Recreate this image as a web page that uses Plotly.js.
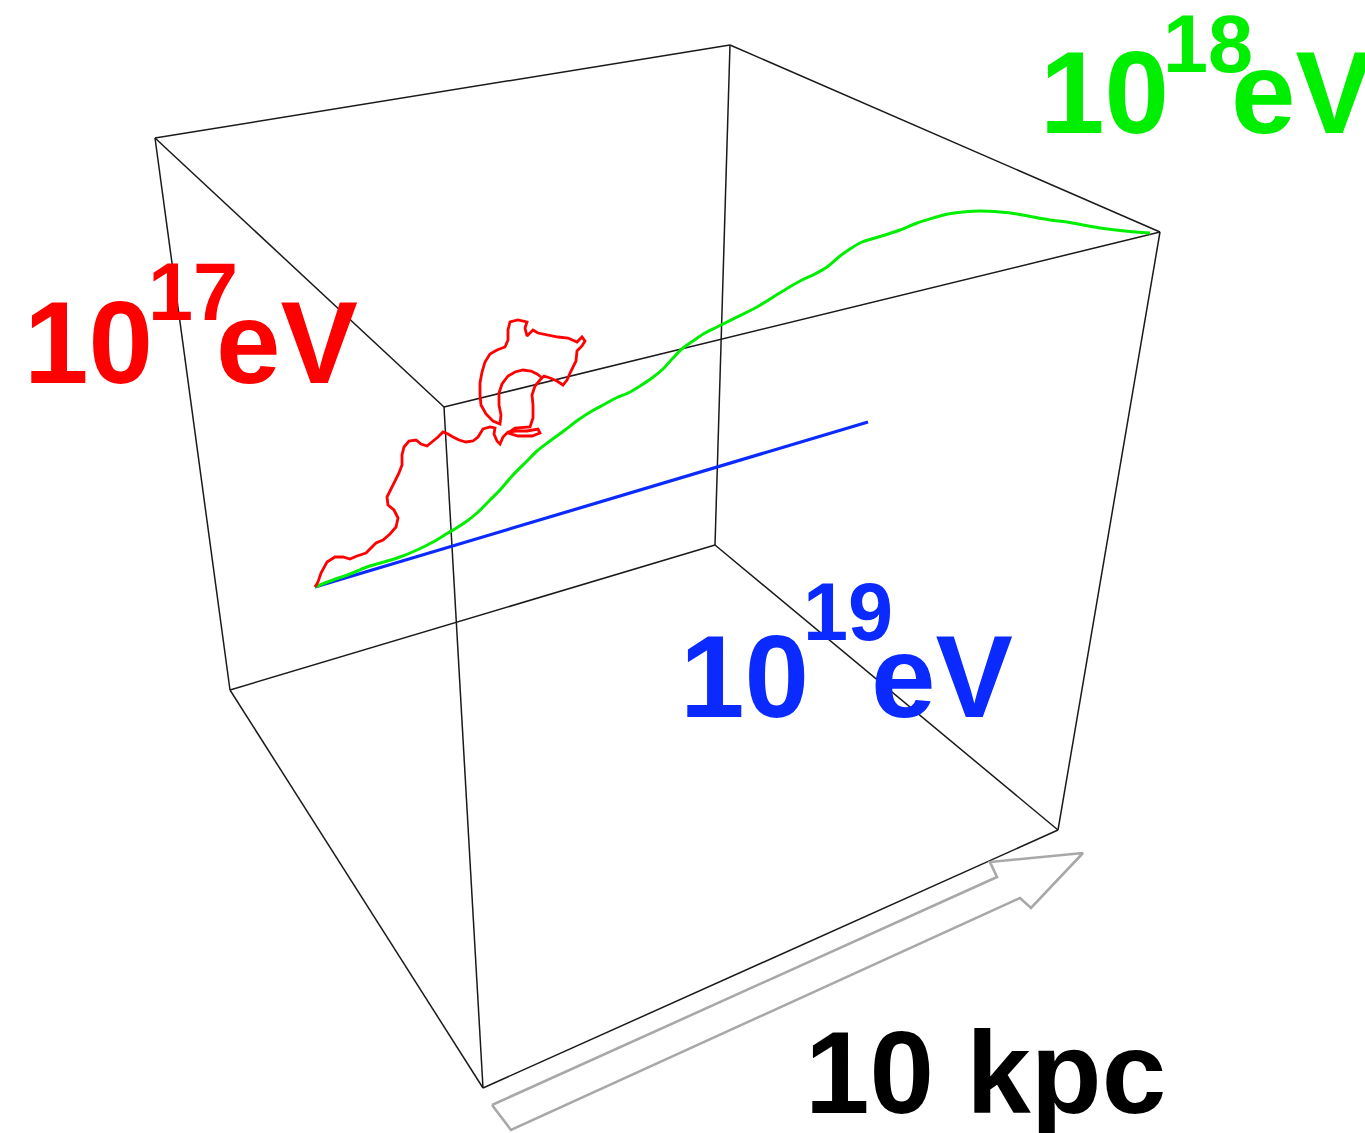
<!DOCTYPE html>
<html>
<head>
<meta charset="utf-8">
<script src="https://cdn.plot.ly/plotly-3.0.1.min.js"></script>
<style>html,body{margin:0;padding:0;background:#fff;}#chart{width:1365px;height:1133px;}</style>
</head>
<body>
<div id="chart"></div>
<script>
// ---- Data (projected picture coordinates) ----
// Cube corners: back-top-left, back-top-right, right-top, front-top, bottom-left, back-bottom, right-bottom, front-bottom
const cubeNames = ["A","B","C","D","E","F","G","H"];
const cubeX = [155, 730, 1160, 444, 230, 715, 1058, 483];
const cubeY = [138,  45,  232, 407, 690, 545,  830, 1088];
const cubeEdges = [[0,1],[1,2],[2,3],[3,0],[4,5],[5,6],[6,7],[7,4],[0,4],[1,5],[2,6],[3,7]];

// 10^17 eV trajectory (red)
const red_x = [315,318,321,327,335,343,350,357,366,371,376,383,390,396,398,394,388,387,391,395,399,402,402,404,409,416,421,427,432,438,443,448,453,459,466,473,478,483,490,495,494,497,500,503,508,516,527,538,540,532,518,508,515,530,533,533,532,535,540,544,550,557,563,567,571,576,577,582,585,582,577,568,558,547,538,533,527,525,527,518,510,508,508,505,497,490,485,482,480,480,481,486,493,500,501,499,499,502,508,515,523,531,537,541];
const red_y = [587,582,573,562,557,557,559,556,553,548,543,540,534,527,518,510,505,497,489,481,473,465,455,447,441,440,444,446,442,437,432,434,437,440,442,441,437,429,427,428,434,441,444,437,432,431,431,429,433,436,436,433,428,427,418,405,395,386,380,376,378,381,385,380,371,361,351,346,341,337,342,338,337,335,333,330,336,328,322,320,322,330,340,347,350,354,362,372,383,395,405,414,421,424,415,405,393,384,376,372,370,371,374,377];

// 10^18 eV trajectory (green)
const green_x = [315,333,350,367,384,400,417,433,448,458,467,477,490,500,513,526,537,550,565,578,592,605,616,628,640,652,663,673,683,693,705,717,735,757,778,800,815,827,840,850,862,875,888,900,917,933,948,963,980,1000,1017,1033,1050,1067,1083,1100,1125,1150];
const green_y = [587,580,574,567,562,557,550,542,533,527,521,513,500,490,475,462,451,441,430,420,411,404,398,393,386,378,369,358,348,341,333,327,318,307,294,281,274,267,256,249,242,238,234,230,223,218,214,212,211,212,214,217,220,222,225,228,231,233];

// 10^19 eV trajectory (blue)
const blue_x = [315, 590, 868];
const blue_y = [587, 505, 422];

// 10 kpc scale arrow outline
const arrow_x = [492, 997, 990, 1083, 1031, 1020, 511, 492];
const arrow_y = [1105, 877, 862, 853, 908, 898, 1130, 1105];

// Labels
const labelBase = ["10", "10", "10"];
const labelExp = ["17", "18", "19"];
const labelUnit = "eV";
const scaleLabel = "10 kpc";

// ---- Build traces ----
const edgeX = [], edgeY = [];
cubeEdges.forEach(([a,b]) => { edgeX.push(cubeX[a], cubeX[b], null); edgeY.push(cubeY[a], cubeY[b], null); });

const traces = [
  {x: edgeX, y: edgeY, mode: "lines", line: {color: "#1a1a1a", width: 1.5}, hoverinfo: "skip"},
  {x: arrow_x, y: arrow_y, mode: "lines", line: {color: "#a8a8a8", width: 2.6}, hoverinfo: "skip"},
  {x: blue_x, y: blue_y, mode: "lines", line: {color: "#0a2aff", width: 3.2}, hoverinfo: "skip"},
  {x: green_x, y: green_y, mode: "lines", line: {color: "#00ee00", width: 3, shape: "spline"}, hoverinfo: "skip"},
  {x: red_x, y: red_y, mode: "lines", line: {color: "#ff0000", width: 2.8}, hoverinfo: "skip"}
];

const W = 1365, H = 1133;
const FONT = "Liberation Sans, Arial, Helvetica, sans-serif";
function label(text, x0, baseline, size, color) {
  return {
    text: "<b>" + text + "</b>", x: x0 / W, y: 1 - (baseline - 0.905 * size) / H, xref: "paper", yref: "paper",
    xanchor: "left", yanchor: "top", showarrow: false, borderpad: 0, borderwidth: 0,
    font: {family: FONT, size: size, color: color}
  };
}
const BIG = 116, SUP = 81;
const annotations = [
  label(labelBase[0], 24, 383, BIG, "#ff0000"),
  label(labelExp[0], 148, 320, SUP, "#ff0000"),
  label(labelUnit, 216, 383, BIG, "#ff0000"),
  label(labelBase[1], 1040, 133, BIG, "#00ee00"),
  label(labelExp[1], 1163, 72, SUP, "#00ee00"),
  label(labelUnit, 1231, 133, BIG, "#00ee00"),
  label(labelBase[2], 680, 717, BIG, "#0a2aff"),
  label(labelExp[2], 803, 640, SUP, "#0a2aff"),
  label(labelUnit, 871, 717, BIG, "#0a2aff"),
  label(scaleLabel, 805, 1113, BIG, "#000000")
];

const layout = {
  width: W, height: H,
  margin: {l: 0, r: 0, t: 0, b: 0},
  paper_bgcolor: "#ffffff", plot_bgcolor: "#ffffff",
  showlegend: false,
  xaxis: {range: [0, W], visible: false, fixedrange: true},
  yaxis: {range: [H, 0], visible: false, fixedrange: true},
  annotations: annotations
};

Plotly.newPlot("chart", traces, layout, {staticPlot: true, displayModeBar: false});
</script>
</body>
</html>
